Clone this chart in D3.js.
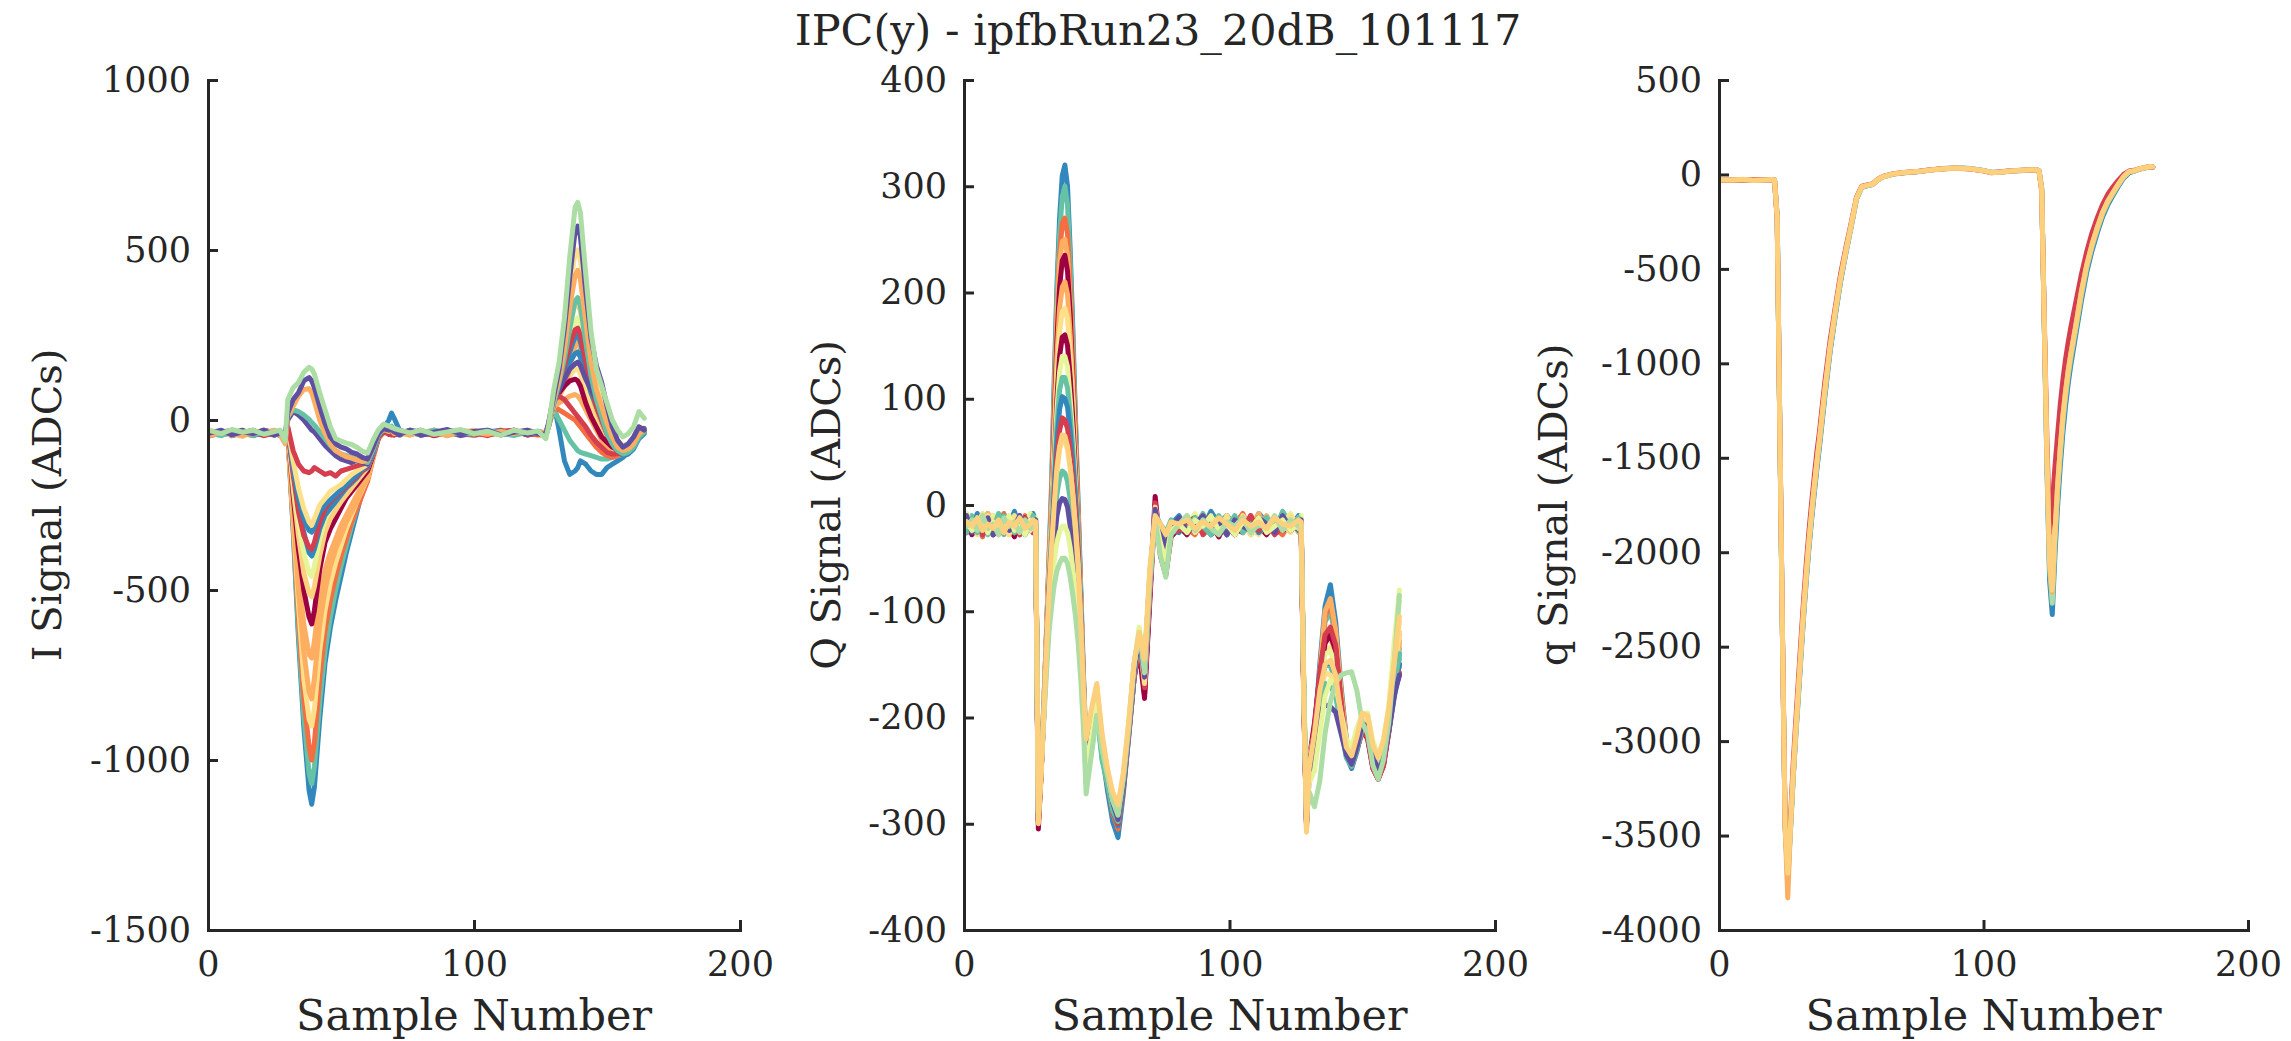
<!DOCTYPE html>
<html><head><meta charset="utf-8">
<script src="https://cdn.jsdelivr.net/npm/d3@7"></script>
<style>
body{margin:0;background:#fff}
svg{display:block}
text{font-family:"DejaVu Serif",serif;fill:#262626}
</style>
</head><body>
<svg id="chart" width="2291" height="1041"></svg>
<script>
// ---------- text ----------
const titleText = "IPC(y) - ipfbRun23_20dB_101117";
const xLabel = "Sample Number";
const yLabels = ["I Signal (ADCs)", "Q Signal (ADCs)", "q Signal (ADCs)"];
const xTicks = [0, 100, 200];
const iTicks = [-1500, -1000, -500, 0, 500, 1000];
const qTicks = [-400, -300, -200, -100, 0, 100, 200, 300, 400];
const sumTicks = [-4000, -3500, -3000, -2500, -2000, -1500, -1000, -500, 0, 500];

// ---------- panel 1 : I signal ----------
const iSamples = [1,5,9,13,17,21,25,27,29, 30,32,34,36,38,39,40,42,44,46,48,50,52,54,56,58,60,62,64, 66,68,69,70,72,76,80,85,90,95,100,105,110,115,120,124, 127,128,130,132,134,136,138,139,140,142,144,146,148,150,152,154,156,158,160,162,164];
const iGreen = [-32,-40,-28,-36,-30,-42,-34,-30,-62, 60,95,110,140,155,150,135,80,30,-20,-55,-62,-68,-72,-80,-92,-97,-60,-30, -12,-18,-22,-25,-30,-38,-30,-42,-35,-28,-40,-33,-45,-30,-38,-32, -55,-20,90,170,300,480,625,640,610,430,260,150,100,50,0,-30,-50,-40,-20,25,5];
const iPurple1 = [-38,-30,-44,-35,-40,-30,-45,-38,-50, 20,60,80,115,125,115,95,40,-10,-50,-70,-80,-85,-95,-100,-110,-115,-80,-40, -25,-30,-28,-35,-42,-30,-45,-36,-28,-40,-34,-30,-44,-36,-30,-40, -42,-10,70,150,270,420,555,570,540,380,240,160,110,40,-20,-60,-80,-70,-50,-20,-30];
const iOrange1 = [-45,-35,-40,-48,-33,-38,-30,-42,-70, 10,40,70,90,92,80,55,0,-40,-70,-90,-100,-108,-112,-118,-122,-118,-80,-38, -28,-34,-30,-40,-36,-44,-32,-38,-46,-30,-36,-42,-34,-40,-30,-38, -35,-15,60,120,210,330,425,440,415,290,170,90,40,-10,-50,-80,-90,-85,-70,-40,-30];
const iTeal1 = [-40,-46,-33,-38,-45,-35,-40,-44,-45, 10,30,25,15,2,-8,-15,-35,-55,-75,-90,-100,-105,-110,-115,-120,-125,-90,-45, -28,-22,-18,-30,-40,-34,-38,-30,-44,-36,-42,-30,-38,-46,-34,-40, -38,-20,50,110,180,270,350,360,335,230,130,60,10,-40,-70,-90,-100,-95,-80,-50,-35];
const iPurple2 = [-36,-42,-38,-30,-44,-40,-32,-36,-40, 0,25,15,0,-20,-30,-35,-55,-75,-90,-105,-115,-120,-125,-118,-125,-130,-95,-45, -30,-35,-32,-38,-44,-30,-36,-40,-34,-46,-38,-32,-40,-35,-42,-36, -40,-15,55,90,120,150,165,170,160,120,90,60,20,-20,-50,-70,-85,-80,-60,-30,-25];
const iRed = [-42,-36,-30,-40,-35,-46,-38,-32,-55, -20,-90,-130,-150,-155,-150,-140,-150,-160,-155,-165,-150,-145,-140,-135,-130,-125,-90,-50, -35,-40,-44,-38,-30,-42,-36,-45,-32,-40,-38,-46,-34,-30,-44,-40, -45,-20,60,110,160,220,265,270,250,170,100,40,0,-40,-70,-90,-100,-90,-75,-50,-35];
const iYellow = [-30,-38,-45,-34,-40,-32,-44,-36,-45, -20,-120,-200,-260,-300,-310,-290,-250,-230,-210,-200,-190,-175,-160,-150,-140,-130,-95,-50, -30,-36,-40,-34,-42,-35,-44,-30,-38,-45,-32,-40,-36,-34,-42,-38, -40,-10,80,150,250,390,490,500,470,320,190,110,60,10,-30,-60,-75,-70,-50,-20,-25];
const iBlue1 = [-44,-34,-40,-36,-42,-30,-38,-46,-40, -30,-150,-250,-330,-390,-400,-380,-320,-280,-260,-240,-220,-200,-185,-170,-150,-140,-100,-50, -25,0,20,5,-30,-40,-34,-38,-44,-32,-40,-36,-30,-42,-38,-34, -38,-15,50,90,130,170,195,200,185,130,80,40,0,-40,-70,-95,-105,-100,-85,-55,-40];
const iLime = [-36,-44,-32,-40,-34,-38,-42,-30,-50, -25,-180,-300,-390,-450,-460,-430,-350,-290,-260,-235,-215,-195,-180,-165,-150,-135,-100,-50, -32,-38,-36,-30,-44,-40,-36,-42,-30,-38,-44,-34,-40,-32,-38,-36, -36,-15,60,100,160,230,290,300,280,200,130,70,20,-20,-55,-80,-90,-85,-65,-30,-30];
const iDarkRed = [-40,-32,-46,-38,-30,-44,-36,-40,-48, -30,-220,-380,-500,-580,-600,-560,-440,-360,-320,-290,-260,-230,-210,-190,-170,-150,-105,-55, -30,-42,-38,-44,-34,-40,-30,-46,-38,-32,-42,-36,-40,-30,-44,-38, -42,-15,60,80,100,115,120,115,100,50,10,-20,-50,-65,-80,-85,-90,-80,-60,-40,-30];
const iOrange2 = [-34,-40,-36,-44,-38,-34,-40,-35,-65, -35,-270,-500,-680,-800,-820,-760,-600,-500,-430,-380,-340,-300,-270,-240,-200,-170,-110,-55, -34,-38,-42,-36,-40,-44,-32,-36,-42,-38,-30,-44,-40,-34,-36,-42, -40,-20,40,50,60,70,75,70,60,30,0,-30,-60,-80,-95,-100,-105,-95,-75,-50,-35];
const iVermilion = [-38,-44,-34,-40,-46,-36,-32,-42,-60, -40,-300,-580,-820,-960,-1000,-950,-760,-620,-530,-460,-400,-350,-300,-260,-220,-180,-115,-55, -36,-40,-34,-42,-38,-30,-44,-38,-34,-40,-46,-36,-32,-40,-38,-44, -44,-20,40,30,20,10,0,-10,-20,-40,-60,-80,-95,-105,-110,-105,-100,-90,-70,-45,-30];
const iTeal2 = [-42,-36,-40,-34,-38,-44,-40,-36,-55, -40,-310,-620,-870,-1040,-1070,-1020,-830,-680,-580,-500,-430,-370,-310,-260,-215,-165,-95,-50, -34,-38,-42,-36,-44,-38,-34,-40,-36,-44,-38,-32,-42,-36,-40,-34, -40,-20,30,0,-30,-60,-80,-90,-95,-100,-105,-110,-115,-115,-110,-105,-95,-85,-65,-40,-30];
const iBlue2 = [-36,-42,-38,-44,-34,-40,-36,-38,-50, -40,-320,-640,-900,-1090,-1130,-1080,-880,-715,-610,-530,-460,-390,-330,-270,-210,-150,-80,-45, -40,-34,-36,-38,-42,-36,-40,-44,-38,-34,-40,-36,-42,-38,-34,-40, -45,-20,50,-30,-120,-160,-150,-140,-120,-130,-150,-160,-160,-140,-130,-120,-110,-95,-75,-45,-30];
const iOrange3 = [-40,-34,-44,-38,-42,-30,-36,-44,-58, -35,-250,-450,-600,-690,-700,-650,-520,-440,-390,-350,-310,-280,-250,-220,-190,-160,-105,-52, -36,-42,-30,-38,-44,-36,-40,-32,-46,-38,-34,-42,-36,-30,-40,-44, -38,-18,50,70,100,150,220,230,210,140,80,30,-10,-45,-70,-85,-95,-88,-70,-45,-32];
const iYellow2 = [-34,-38,-42,-30,-40,-46,-36,-40,-52, -38,-290,-540,-760,-880,-900,-850,-680,-560,-480,-420,-370,-320,-280,-240,-205,-170,-110,-55, -40,-36,-44,-38,-32,-42,-38,-46,-34,-40,-36,-44,-30,-38,-42,-36, -42,-20,45,80,110,130,150,150,135,90,40,0,-35,-65,-85,-95,-100,-92,-72,-45,-30];
const iRed2 = [-46,-38,-34,-42,-36,-40,-44,-38,-58, -25,-160,-270,-340,-375,-380,-360,-300,-260,-240,-225,-210,-195,-180,-165,-150,-135,-98,-50, -32,-40,-36,-44,-38,-34,-42,-30,-40,-36,-44,-38,-32,-40,-36,-42, -40,-18,60,70,60,40,20,10,0,-20,-45,-65,-80,-95,-100,-100,-95,-85,-68,-45,-30];
const iGold = [-36,-40,-34,-44,-38,-42,-36,-34,-48, -28,-200,-340,-450,-510,-520,-490,-400,-330,-290,-265,-240,-220,-200,-180,-160,-140,-100,-50, -34,-40,-38,-36,-42,-38,-34,-40,-36,-42,-38,-34,-40,-36,-38,-40, -40,-15,70,130,200,280,340,345,320,220,140,80,30,-15,-50,-75,-85,-80,-62,-35,-28];
const iBlue3 = [-40,-36,-44,-38,-34,-40,-42,-36,-50, -28,-140,-230,-290,-325,-330,-315,-270,-250,-235,-220,-205,-190,-175,-160,-145,-130,-95,-48, -36,-34,-40,-38,-42,-36,-44,-38,-34,-40,-36,-42,-38,-34,-40,-36, -40,-15,60,100,150,200,245,250,230,160,100,50,10,-30,-60,-85,-95,-90,-72,-45,-32];

// ---------- panel 2 : Q signal ----------
const qSamples = [1,3,5,7,9,11,13,15,17,19,21,23,25,26, 27,28,29,30,31,32,33,34,35,36,37,38,39,40,41,42,43,44,45,46,48,50,52,54,56,58,60,62,64,66,68,70,72,74,76,78, 81,84,87,90,93,96,99,102,105,108,111,114,117,120,123,126, 127,128,129,130,132,134,136,138,140,142,144,146,148,150,152,154,156,158,160,162,164];
const qBlue1 = [-12,-25,-8,-20,-15,-28,-10,-22,-18,-6,-24,-14,-20,-8, -15,-295,-255,-195,-125,-50,20,120,205,270,310,320,300,240,165,80,0,-80,-160,-228,-205,-178,-232,-268,-298,-313,-272,-218,-165,-128,-162,-72,-6,-22,-30,-18, -10,-26,-14,-22,-6,-18,-28,-12,-20,-24,-8,-16,-26,-12,-20,-10, -14,-180,-300,-245,-215,-150,-95,-75,-110,-170,-220,-242,-225,-200,-198,-230,-245,-232,-205,-170,-140];
const qTeal1 = [-20,-10,-26,-16,-8,-22,-18,-28,-12,-20,-14,-26,-10,-16, -20,-290,-250,-195,-130,-55,10,110,195,255,290,300,282,228,155,75,-5,-85,-170,-262,-230,-195,-240,-262,-285,-300,-265,-215,-160,-125,-150,-65,-8,-18,-26,-14, -24,-12,-20,-8,-26,-16,-10,-22,-14,-28,-18,-12,-24,-6,-18,-22, -18,-175,-295,-250,-220,-160,-110,-100,-125,-180,-225,-238,-220,-205,-210,-235,-250,-238,-210,-175,-135];
const qVermilion = [-24,-14,-20,-30,-12,-18,-26,-8,-22,-16,-28,-10,-20,-14, -18,-298,-250,-190,-125,-55,5,95,175,235,265,270,255,205,140,65,-10,-90,-170,-240,-212,-185,-230,-262,-290,-305,-268,-220,-165,-130,-165,-75,-4,-24,-34,-20, -16,-22,-28,-10,-20,-14,-24,-18,-8,-26,-20,-12,-22,-28,-14,-18, -22,-185,-305,-250,-218,-160,-105,-92,-120,-175,-222,-240,-222,-198,-205,-236,-250,-236,-205,-165,-120];
const qDarkRed1 = [-16,-28,-20,-10,-24,-18,-12,-26,-20,-30,-14,-22,-18,-26, -22,-305,-255,-195,-130,-62,-5,80,155,205,230,235,220,180,120,55,-15,-90,-165,-235,-210,-182,-228,-258,-285,-298,-262,-212,-160,-118,-178,-85,8,-40,-58,-26, -20,-28,-12,-24,-18,-30,-14,-22,-26,-10,-20,-28,-16,-24,-20,-14, -26,-190,-300,-240,-205,-160,-125,-118,-135,-185,-228,-244,-228,-210,-215,-245,-258,-245,-212,-175,-150];
const qOrange = [-10,-20,-16,-26,-8,-22,-28,-14,-20,-12,-18,-24,-10,-20, -14,-292,-250,-190,-128,-60,-5,70,140,185,205,210,198,160,110,50,-15,-90,-165,-232,-205,-180,-225,-255,-282,-295,-260,-210,-158,-128,-158,-70,-10,-20,-28,-16, -18,-10,-24,-16,-28,-12,-20,-26,-14,-22,-8,-24,-16,-20,-12,-26, -16,-178,-298,-250,-220,-168,-128,-125,-140,-185,-225,-240,-222,-204,-206,-234,-246,-232,-204,-168,-130];
const qDarkRed2 = [-26,-18,-12,-24,-20,-28,-16,-10,-22,-26,-18,-12,-24,-18, -20,-300,-255,-200,-140,-75,-25,40,100,140,158,160,150,120,80,30,-25,-95,-168,-238,-210,-185,-232,-262,-288,-300,-265,-214,-162,-138,-182,-90,0,-48,-66,-30, -22,-14,-26,-18,-10,-24,-20,-28,-16,-22,-12,-26,-20,-14,-24,-18, -20,-185,-298,-248,-212,-165,-130,-122,-138,-188,-230,-246,-230,-212,-220,-248,-258,-244,-212,-176,-160];
const qLime = [-8,-18,-24,-14,-22,-10,-20,-26,-16,-12,-22,-18,-8,-20, -12,-288,-248,-192,-135,-75,-25,35,90,125,140,140,130,100,65,20,-30,-95,-165,-230,-200,-172,-220,-250,-278,-290,-255,-205,-150,-115,-155,-60,-12,-30,-50,-22, -14,-20,-8,-26,-16,-12,-22,-18,-24,-10,-20,-14,-26,-18,-8,-22, -10,-170,-292,-238,-215,-170,-140,-138,-150,-190,-225,-236,-218,-198,-196,-225,-238,-222,-190,-130,-80];
const qBlue2 = [-18,-24,-10,-28,-16,-20,-26,-12,-24,-18,-10,-28,-16,-22, -16,-296,-252,-198,-140,-80,-35,15,60,90,102,100,92,70,40,5,-40,-100,-170,-235,-205,-178,-225,-255,-285,-302,-268,-218,-165,-125,-160,-72,-6,-22,-36,-24, -26,-16,-20,-12,-28,-22,-10,-18,-24,-14,-26,-20,-12,-22,-16,-24, -18,-182,-296,-244,-218,-172,-150,-148,-160,-198,-236,-248,-232,-210,-214,-240,-252,-240,-214,-182,-150];
const qYellow = [-14,-22,-18,-8,-26,-14,-20,-16,-28,-10,-22,-16,-24,-12, -16,-290,-250,-195,-142,-88,-45,-5,30,52,62,60,52,35,10,-20,-55,-110,-172,-226,-196,-170,-218,-248,-276,-292,-258,-210,-155,-120,-168,-78,-2,-28,-42,-20, -20,-12,-26,-18,-14,-24,-10,-22,-16,-28,-12,-20,-24,-16,-10,-22, -16,-176,-294,-246,-222,-180,-158,-160,-168,-200,-232,-240,-222,-200,-202,-230,-244,-230,-200,-160,-120];
const qTeal2 = [-22,-12,-26,-18,-14,-24,-8,-20,-16,-26,-12,-22,-18,-10, -18,-294,-252,-198,-145,-95,-55,-20,10,25,32,30,22,5,-18,-45,-75,-120,-180,-262,-220,-190,-236,-262,-288,-298,-262,-214,-160,-128,-150,-66,-10,-20,-30,-18, -16,-24,-12,-20,-28,-14,-22,-10,-26,-18,-20,-12,-24,-16,-22,-12, -20,-180,-298,-252,-228,-185,-168,-170,-180,-210,-238,-246,-230,-210,-212,-238,-250,-236,-208,-172,-140];
const qPurple = [-10,-26,-16,-22,-12,-28,-18,-14,-24,-20,-10,-26,-14,-20, -14,-292,-252,-200,-150,-105,-70,-35,-10,2,6,5,-2,-20,-40,-62,-90,-130,-185,-230,-200,-175,-222,-252,-280,-296,-262,-212,-158,-124,-162,-74,-4,-26,-40,-22, -12,-26,-18,-10,-22,-16,-28,-14,-20,-24,-12,-18,-26,-10,-22,-16, -14,-184,-300,-258,-235,-195,-188,-190,-195,-215,-235,-244,-228,-206,-208,-236,-250,-240,-212,-180,-160];
const qGreen = [-20,-14,-24,-10,-22,-18,-28,-12,-20,-16,-26,-14,-22,-18, -20,-288,-250,-205,-160,-120,-95,-75,-62,-55,-50,-50,-55,-68,-85,-105,-130,-165,-210,-272,-235,-198,-230,-254,-278,-292,-258,-210,-150,-120,-158,-72,-14,-48,-68,-28, -18,-10,-24,-14,-22,-28,-16,-20,-12,-26,-18,-22,-10,-24,-14,-20, -22,-175,-290,-270,-284,-260,-215,-185,-168,-160,-158,-157,-175,-205,-215,-245,-258,-240,-205,-150,-85];
const qGold = [-16,-20,-12,-24,-18,-22,-14,-26,-16,-20,-12,-22,-18,-14, -16,-300,-258,-200,-140,-85,-40,0,35,55,66,65,55,35,8,-25,-60,-115,-175,-220,-192,-168,-215,-248,-270,-282,-252,-205,-150,-120,-145,-60,-10,-18,-28,-16, -18,-14,-22,-16,-20,-12,-18,-24,-14,-20,-16,-22,-12,-18,-20,-14, -16,-190,-308,-248,-215,-175,-150,-146,-160,-198,-228,-236,-218,-196,-198,-226,-238,-222,-192,-150,-105];
const qOrange2 = [-18,-26,-12,-20,-24,-10,-22,-16,-28,-14,-20,-26,-12,-22, -16,-296,-252,-192,-126,-52,2,95,175,228,248,250,235,190,130,60,-12,-88,-168,-236,-208,-182,-228,-260,-288,-300,-264,-214,-162,-126,-160,-70,-6,-24,-32,-18, -22,-14,-26,-10,-20,-18,-28,-12,-24,-16,-22,-10,-26,-18,-14,-24, -20,-182,-302,-248,-216,-158,-100,-88,-118,-176,-224,-240,-222,-200,-204,-234,-248,-234,-206,-168,-128];
const qYellow2 = [-22,-14,-28,-18,-10,-24,-16,-22,-12,-26,-20,-14,-24,-16, -18,-294,-250,-194,-132,-66,-14,55,120,162,182,185,175,140,95,40,-20,-92,-166,-234,-206,-180,-226,-256,-284,-296,-262,-212,-160,-122,-170,-80,-4,-30,-46,-22, -14,-22,-18,-26,-12,-20,-16,-24,-10,-22,-28,-14,-20,-18,-26,-12, -18,-180,-296,-246,-214,-170,-138,-134,-148,-190,-228,-238,-220,-200,-200,-228,-240,-226,-196,-156,-110];
const qTeal3 = [-26,-16,-22,-12,-28,-18,-24,-10,-20,-26,-14,-22,-16,-24, -20,-292,-250,-196,-138,-78,-30,25,75,108,120,120,110,85,52,12,-35,-98,-168,-258,-225,-192,-238,-262,-286,-298,-264,-214,-160,-126,-152,-66,-8,-20,-28,-16, -20,-12,-26,-16,-22,-10,-28,-18,-14,-24,-20,-12,-26,-16,-22,-18, -20,-178,-296,-252,-224,-176,-150,-152,-165,-205,-236,-246,-230,-210,-212,-240,-254,-240,-210,-176,-145];
const qRed = [-12,-24,-18,-28,-14,-20,-10,-26,-18,-22,-28,-12,-20,-26, -20,-298,-254,-198,-140,-82,-40,5,45,70,82,80,72,52,25,-8,-48,-105,-170,-232,-204,-178,-226,-256,-284,-300,-266,-216,-164,-130,-172,-82,2,-44,-62,-26, -24,-16,-12,-28,-20,-14,-26,-18,-22,-10,-24,-16,-28,-20,-12,-22, -24,-186,-300,-246,-210,-158,-122,-115,-132,-185,-230,-246,-230,-214,-218,-248,-258,-246,-214,-178,-158];
const qLime2 = [-16,-24,-20,-12,-26,-16,-22,-18,-10,-24,-20,-28,-14,-20, -16,-290,-250,-202,-155,-112,-80,-52,-35,-25,-20,-20,-26,-40,-60,-82,-110,-148,-196,-250,-218,-186,-228,-252,-278,-290,-256,-208,-152,-118,-150,-64,-12,-36,-52,-24, -18,-26,-14,-20,-10,-24,-18,-28,-16,-22,-12,-26,-20,-14,-24,-18, -18,-172,-288,-262,-250,-215,-180,-165,-170,-195,-220,-228,-210,-196,-196,-222,-236,-220,-190,-140,-90];

// ---------- panel 3 : q (sum) signal ----------
const sSamples = [1,5,9,13,17,20,21, 22,23,24,25,26,27,28,29,30,31,32,33,34,35,36,37,38,40,42,44,46,48,50,52,54,56,58,60,62,66,70, 75,80,85,90,95,100,103,106,110,115,120,121, 122,123,124,125,126,127,128,129,130,131,132,133,135,137,139,141,143,145,147,149,151,153,155,157,159,161,163,164];
const sBlue = [-27,-31,-29,-30,-28,-30,-29, -220,-1360,-2460,-3460,-3700,-3480,-3210,-2980,-2770,-2550,-2340,-2150,-1980,-1830,-1690,-1560,-1440,-1180,-940,-745,-565,-415,-275,-130,-68,-60,-54,-30,-13,2,9, 14,24,31,35,31,21,11,12,17,21,26,19, -70,-820,-1560,-2150,-2330,-2020,-1760,-1550,-1370,-1230,-1110,-1010,-840,-670,-520,-405,-310,-225,-160,-110,-62,-20,8,18,28,34,41,40];
const sTeal = [-29,-30,-28,-31,-30,-28,-29, -235,-1345,-2445,-3440,-3740,-3470,-3195,-2965,-2750,-2530,-2320,-2130,-1960,-1810,-1670,-1540,-1420,-1160,-925,-735,-555,-408,-270,-128,-66,-59,-53,-29,-12,3,9, 15,24,30,34,30,20,10,12,18,22,25,18, -75,-810,-1530,-2100,-2240,-1960,-1700,-1500,-1320,-1190,-1075,-980,-815,-645,-500,-388,-295,-212,-150,-102,-56,-15,12,19,29,35,42,40];
const sGreen = [-28,-29,-30,-28,-31,-29,-28, -232,-1348,-2448,-3445,-3750,-3465,-3190,-2958,-2740,-2520,-2310,-2120,-1950,-1800,-1660,-1530,-1410,-1150,-918,-728,-550,-404,-268,-126,-66,-58,-52,-28,-12,3,10, 15,24,30,34,30,20,10,12,18,22,25,18, -78,-805,-1515,-2070,-2270,-1920,-1670,-1470,-1300,-1165,-1055,-962,-800,-630,-488,-378,-287,-206,-145,-98,-52,-12,14,20,30,35,42,40];
const sRed = [-30,-28,-31,-27,-30,-29,-31, -240,-1340,-2440,-3440,-3690,-3420,-3130,-2900,-2680,-2460,-2250,-2060,-1890,-1740,-1600,-1470,-1360,-1100,-880,-700,-525,-385,-255,-120,-62,-56,-50,-26,-10,4,10, 16,25,30,33,29,19,9,13,19,22,24,17, -90,-780,-1420,-1900,-1750,-1550,-1380,-1220,-1090,-980,-890,-810,-670,-530,-410,-310,-230,-160,-105,-65,-30,0,18,22,30,36,42,38];
const sOrange = [-30,-29,-28,-30,-29,-30,-28, -228,-1352,-2452,-3455,-3830,-3465,-3185,-2955,-2735,-2515,-2305,-2115,-1945,-1795,-1655,-1525,-1405,-1145,-915,-725,-548,-402,-266,-125,-65,-58,-52,-28,-12,3,10, 15,24,30,34,30,20,10,12,18,22,25,18, -80,-800,-1500,-2060,-2210,-1905,-1655,-1455,-1285,-1155,-1045,-955,-795,-625,-484,-374,-284,-203,-143,-96,-51,-11,15,20,30,35,42,40];
const sGold = [-28,-30,-26,-32,-29,-27,-30, -230,-1350,-2450,-3450,-3700,-3460,-3180,-2950,-2730,-2510,-2300,-2110,-1940,-1790,-1650,-1520,-1400,-1140,-910,-720,-545,-400,-265,-125,-65,-58,-52,-28,-12,3,10, 15,24,30,34,30,20,10,12,18,22,25,18, -80,-800,-1500,-2050,-2200,-1900,-1650,-1450,-1280,-1150,-1040,-950,-790,-620,-480,-370,-280,-200,-140,-95,-50,-10,15,20,30,35,42,40];

// ---------- colours (Spectral) ----------
const C = {darkred:"#9e0142", red:"#d53e4f", vermilion:"#f46d43", orange:"#fdae61", yellow:"#fee08b", gold:"#fdd07d",
           lime:"#e6f598", green:"#abdda4", teal:"#66c2a5", blue:"#3288bd", purple:"#5e4fa2"};

const panels = [
  { left:208, right:740, yDomain:[-1500,1000], yTicks:iTicks, samples:iSamples, label:yLabels[0], labelX:61,
    series:[ {v:iBlue2,c:C.blue},{v:iTeal2,c:C.teal},{v:iVermilion,c:C.vermilion},{v:iYellow2,c:C.yellow},
             {v:iOrange2,c:C.orange},{v:iOrange3,c:C.orange},{v:iDarkRed,c:C.darkred},{v:iGold,c:C.gold},
             {v:iLime,c:C.lime},{v:iBlue1,c:C.blue},{v:iRed2,c:C.red},{v:iBlue3,c:C.blue},{v:iYellow,c:C.yellow},
             {v:iRed,c:C.red},{v:iPurple2,c:C.purple},{v:iTeal1,c:C.teal},{v:iOrange1,c:C.orange},
             {v:iPurple1,c:C.purple},{v:iGreen,c:C.green} ] },
  { left:964, right:1495, yDomain:[-400,400], yTicks:qTicks, samples:qSamples, label:yLabels[1], labelX:840,
    series:[ {v:qBlue1,c:C.blue},{v:qTeal1,c:C.teal},{v:qVermilion,c:C.vermilion},{v:qOrange2,c:C.orange},
             {v:qDarkRed1,c:C.darkred},{v:qOrange,c:C.orange},{v:qYellow2,c:C.yellow},{v:qDarkRed2,c:C.darkred},
             {v:qLime,c:C.lime},{v:qTeal3,c:C.teal},{v:qBlue2,c:C.blue},{v:qRed,c:C.red},{v:qYellow,c:C.yellow},
             {v:qTeal2,c:C.teal},{v:qPurple,c:C.purple},{v:qLime2,c:C.lime},{v:qGreen,c:C.green},
             {v:qGold,c:C.gold} ] },
  { left:1719, right:2248, yDomain:[-4000,500], yTicks:sumTicks, samples:sSamples, label:yLabels[2], labelX:1567,
    series:[ {v:sBlue,c:C.blue},{v:sTeal,c:C.teal},{v:sGreen,c:C.green},{v:sRed,c:C.red},
             {v:sOrange,c:C.orange},{v:sGold,c:C.gold} ] }
];

const TOP = 80, BOTTOM = 930, INK = "#262626";
const svg = d3.select("#chart");

svg.append("text").attr("x", 1158).attr("y", 45).attr("text-anchor", "middle")
   .style("font-size", "43px").text(titleText);

panels.forEach(p => {
  const x = d3.scaleLinear().domain([0, 200]).range([p.left, p.right]);
  const y = d3.scaleLinear().domain(p.yDomain).range([BOTTOM, TOP]);
  const g = svg.append("g");
  const line = d3.line().x((d, i) => x(p.samples[i])).y(d => y(d));

  g.selectAll("path.trace").data(p.series).join("path")
    .attr("class", "trace")
    .attr("d", s => line(s.v))
    .attr("fill", "none")
    .attr("stroke", s => s.c)
    .attr("stroke-width", 5)
    .attr("stroke-linejoin", "round")
    .attr("stroke-linecap", "round");

  const ya = g.append("g").attr("transform", `translate(${p.left},0)`)
    .call(d3.axisLeft(y).tickValues(p.yTicks).tickFormat(d => String(d))
      .tickSize(-10).tickSizeOuter(0).tickPadding(17));
  const xa = g.append("g").attr("transform", `translate(0,${BOTTOM})`)
    .call(d3.axisBottom(x).tickValues(xTicks).tickFormat(d => String(d))
      .tickSize(-10).tickSizeOuter(0).tickPadding(21));

  [ya, xa].forEach(a => {
    a.attr("font-family", null).attr("font-size", null);
    a.select(".domain").attr("stroke", INK).attr("stroke-width", 3).attr("stroke-linecap", "square");
    a.selectAll(".tick line").attr("stroke", INK).attr("stroke-width", 3);
    a.selectAll(".tick text").attr("fill", INK).style("font-size", "35px");
  });

  g.append("text").attr("x", (p.left + p.right) / 2).attr("y", 1030)
    .attr("text-anchor", "middle").style("font-size", "43px").text(xLabel);
  g.append("text").attr("transform", `translate(${p.labelX},${(TOP + BOTTOM) / 2}) rotate(-90)`)
    .attr("text-anchor", "middle").style("font-size", "40px").text(p.label);
});
</script>
</body></html>
